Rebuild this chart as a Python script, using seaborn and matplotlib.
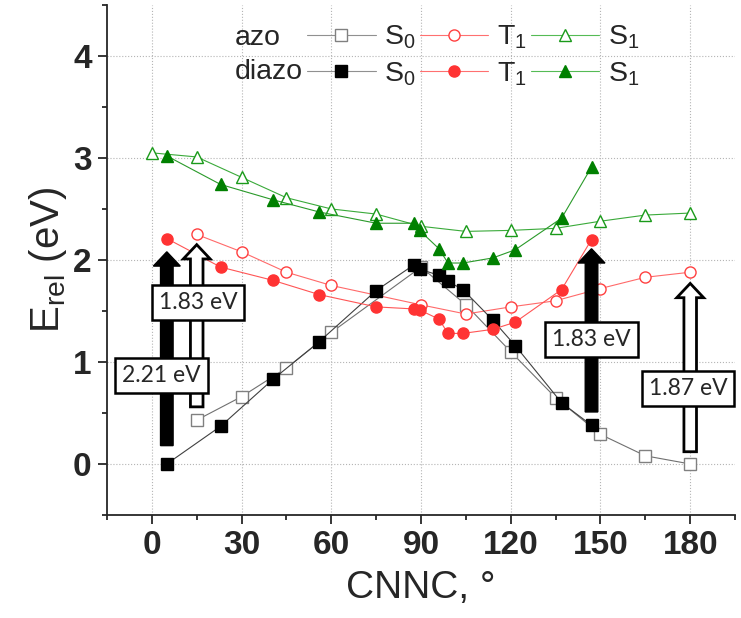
import numpy as np
import seaborn as sns
import matplotlib.pyplot as plt
from matplotlib.lines import Line2D
from matplotlib.ticker import MultipleLocator
import warnings
warnings.filterwarnings('ignore')

# azo: CNNC angle (deg) and relative energies (eV)
azo_x = [0, 15, 30, 45, 60, 75, 90, 105, 120, 135, 150, 165, 180]
azo_S0 = [np.nan, 0.43, 0.66, 0.94, 1.29, np.nan, 1.93, 1.56, 1.10, 0.65, 0.29, 0.08, 0.00]
azo_T1 = [np.nan, 2.25, 2.08, 1.88, 1.75, np.nan, 1.56, 1.47, 1.54, 1.60, 1.72, 1.83, 1.88]
azo_S1 = [3.05, 3.01, 2.81, 2.61, 2.50, 2.45, 2.33, 2.28, 2.29, 2.31, 2.38, 2.44, 2.46]

# diazo
diazo_x = [5, 23, 40.5, 56, 75, 87.5, 89.5, 96, 99, 104, 114, 121.5, 137, 147]
diazo_S0 = [0.00, 0.37, 0.83, 1.20, 1.70, 1.95, 1.91, 1.85, 1.79, 1.71, 1.41, 1.16, 0.60, 0.38]
diazo_T1 = [2.21, 1.93, 1.80, 1.66, 1.54, 1.52, 1.51, 1.42, 1.28, 1.28, 1.32, 1.39, 1.71, 2.20]
diazo_S1 = [3.02, 2.74, 2.59, 2.47, 2.36, 2.36, 2.29, 2.11, 1.97, 1.97, 2.02, 2.10, 2.41, 2.91]

# vertical excitation arrows: angle, start, tip, filled
arrow_x = [5, 15, 147, 180]
arrow_lo = [0.18, 0.56, 0.51, 0.12]
arrow_hi = [2.08, 2.15, 2.11, 1.77]
arrow_filled = [True, False, True, False]
box_labels = ["2.21 eV", "1.83 eV", "1.83 eV", "1.87 eV"]
box_x = [3.2, 15.4, 147, 179.3]
box_y = [0.87, 1.58, 1.22, 0.74]

sns.set_style("ticks")
plt.rcParams['font.family'] = ['Liberation Sans', 'DejaVu Sans']
plt.rcParams['mathtext.fontset'] = 'custom'
plt.rcParams['mathtext.rm'] = 'Liberation Sans'

fig, ax = plt.subplots(figsize=(7.41, 6.18), dpi=100)
fig.subplots_adjust(left=0.1444, right=0.992, bottom=0.1667, top=0.992)

series = [
    (azo_x, azo_S0, 's', 'white', '#808080', '#707070', 8),
    (azo_x, azo_T1, 'o', 'white', '#ff4040', '#ff6a6a', 8),
    (azo_x, azo_S1, '^', 'white', '#1a9a1a', '#3aaa3a', 9),
    (diazo_x, diazo_S0, 's', 'black', 'black', '#404040', 8),
    (diazo_x, diazo_T1, 'o', '#ff3333', '#ff3333', '#ff5555', 8),
    (diazo_x, diazo_S1, '^', '#008000', '#008000', '#2a9a2a', 9),
]
for xs, ys, mk, fc, ec, lc, ms in series:
    sns.lineplot(x=xs, y=ys, ax=ax, color=lc, lw=0.8, marker=mk,
                 markersize=ms, markerfacecolor=fc, markeredgecolor=ec,
                 markeredgewidth=1.0, sort=False, estimator=None, zorder=3)

for x, lo, hi, filled in zip(arrow_x, arrow_lo, arrow_hi, arrow_filled):
    ax.arrow(x, lo, 0, hi - lo, width=4.2, head_width=9.0, head_length=0.14,
             length_includes_head=True, fc='black' if filled else 'white',
             ec='black', lw=1.0 if filled else 2.0, zorder=5)

for txt, bx, by in zip(box_labels, box_x, box_y):
    ax.text(bx, by, txt, ha='center', va='center', fontsize=16.5,
            family=['Lato', 'DejaVu Sans'], zorder=6,
            bbox=dict(boxstyle='square,pad=0.3', fc='white', ec='black', lw=1.8))

ax.set_xlim(-15, 195)
ax.set_ylim(-0.5, 4.5)
ax.set_xticks([0, 30, 60, 90, 120, 150, 180])
ax.set_yticks([0, 1, 2, 3, 4])
ax.xaxis.set_minor_locator(MultipleLocator(15))
ax.yaxis.set_minor_locator(MultipleLocator(0.5))
ax.tick_params(which='major', direction='out', length=6.5, width=1.3,
               labelsize=24, pad=4.5)
ax.tick_params(which='minor', direction='out', length=3.5, width=1.3)
for lab in ax.get_xticklabels() + ax.get_yticklabels():
    lab.set_fontweight('bold')
sns.despine(ax=ax)
for sp in ['left', 'bottom']:
    ax.spines[sp].set_linewidth(1.3)
ax.grid(True, which='major', ls=':', color='#b5b5b5', lw=0.8)
ax.set_axisbelow(True)

ax.set_xlabel('CNNC, °', fontsize=28, labelpad=6)
ax.set_ylabel(r'E$_{\mathregular{rel}}$ (eV)', fontsize=29, labelpad=3)

blank = Line2D([], [], linestyle='none')
def h(mk, fc, ec, lc, ms):
    return Line2D([], [], color=lc, lw=0.8, marker=mk, markersize=ms,
                  markerfacecolor=fc, markeredgecolor=ec)
handles = [blank, blank,
           h('s', 'white', '#808080', '#909090', 8), h('s', 'black', 'black', '#909090', 8),
           h('o', 'white', '#ff4040', '#ff7070', 8), h('o', '#ff3333', '#ff3333', '#ff7070', 8),
           h('^', 'white', '#1a9a1a', '#55bb55', 9), h('^', '#008000', '#008000', '#55bb55', 9)]
labels = ['azo', 'diazo', r'S$_0$', r'S$_0$', r'T$_1$', r'T$_1$', r'S$_1$', r'S$_1$']
ax.legend(handles, labels, ncol=4, loc='upper left', bbox_to_anchor=(0.045, 1.008),
          frameon=False, fontsize=20.5, handlelength=2.4, handletextpad=0.3,
          columnspacing=0.15, labelspacing=0.3, borderpad=0.3)

plt.savefig('out.png', dpi=100)
